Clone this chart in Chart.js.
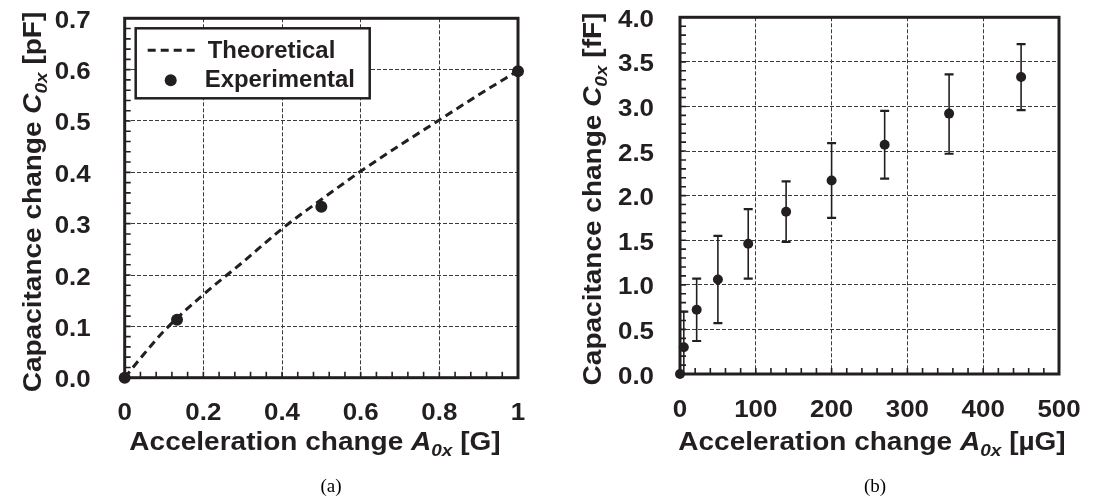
<!DOCTYPE html>
<html>
<head>
<meta charset="utf-8">
<script src="https://cdn.jsdelivr.net/npm/chart.js@4.4.0/dist/chart.umd.min.js"></script>
<style>
  body { margin: 0; background: #fff; width: 1105px; height: 500px; position: relative; overflow: hidden; }
  canvas { position: absolute; top: 0; }
  #chart_a { left: 0; }
  #chart_b { left: 552px; }
</style>
</head>
<body>
<canvas id="chart_a" width="552" height="500"></canvas>
<canvas id="chart_b" width="553" height="500"></canvas>
<script>
// (a) capacitance vs acceleration, G range
const theo_x = [0, 0.05, 0.1, 0.2, 0.3, 0.4, 0.5, 0.6, 0.7, 0.8, 0.9, 1.0];
const theo_y = [0, 0.047, 0.091, 0.162, 0.225, 0.29, 0.347, 0.402, 0.453, 0.502, 0.551, 0.598];
const exp_x = [0, 0.133, 0.5, 1.0];
const exp_y = [0, 0.113, 0.333, 0.597];

// (b) micro-G range with error bars
const micro_x = [0, 5, 22, 50, 90, 140, 200, 270, 355, 450];
const micro_y = [0, 0.30, 0.72, 1.06, 1.46, 1.82, 2.17, 2.57, 2.92, 3.33];
const micro_hi = [0, 0.70, 1.07, 1.55, 1.85, 2.16, 2.59, 2.95, 3.36, 3.70];
const micro_lo = [0, -0.10, 0.37, 0.57, 1.07, 1.48, 1.75, 2.19, 2.47, 2.96];

const a_x_ticks = { min: 0, max: 1, step: 0.2, minor: 0.04 };
const a_y_ticks = { min: 0, max: 0.7, step: 0.1, minor: 0.02 };
const b_x_ticks = { min: 0, max: 500, step: 100, minor: 20 };
const b_y_ticks = { min: 0, max: 4, step: 0.5, minor: 0.1 };

const INK = '#231f20';
const SANS = '"Liberation Sans", Arial, Helvetica, sans-serif';
const TICK_SIZE = 24;
const TITLE_SIZE = 25;

function font_for(p, size) {
  let s = p.sub ? Math.round(size * 0.68) : size;
  return (p.it ? 'italic ' : '') + 'bold ' + s + 'px ' + SANS;
}

// draws a run of text pieces (normal / italic / subscript) on one baseline
function draw_rich(ctx, parts, x, y, size, align, rot, sx) {
  ctx.save();
  let w = 0;
  parts.forEach(p => {
    ctx.font = font_for(p, size);
    p.w = ctx.measureText(p.t).width;
    w += p.w;
  });
  ctx.translate(x, y);
  ctx.rotate(rot || 0);
  ctx.scale(sx || 1, 1);
  let cx = align == 'center' ? -w / 2 : align == 'right' ? -w : 0;
  ctx.fillStyle = INK;
  ctx.textBaseline = 'alphabetic';
  ctx.textAlign = 'left';
  parts.forEach(p => {
    ctx.font = font_for(p, size);
    ctx.fillText(p.t, cx, p.sub ? size * 0.24 : 0);
    cx += p.w;
  });
  ctx.restore();
}

function each_step(min, max, step, fn) {
  const n = Math.round((max - min) / step);
  for (let k = 0; k <= n; k++) fn(min + k * step);
}

function make_paper(cfg) {
  return {
    id: 'paper',
    beforeDatasetsDraw(chart) {
      const ctx = chart.ctx, a = chart.chartArea;
      const xs = chart.scales.x, ys = chart.scales.y;
      ctx.save();
      ctx.strokeStyle = INK;
      ctx.setLineDash([]);
      // small inward ticks
      ctx.lineWidth = 1.6;
      ctx.beginPath();
      each_step(xs.min, xs.max, cfg.x.minor, v => {
        const p = xs.getPixelForValue(v);
        ctx.moveTo(p, a.bottom);
        ctx.lineTo(p, a.bottom - 6);
      });
      each_step(ys.min, ys.max, cfg.y.minor, v => {
        const p = ys.getPixelForValue(v);
        ctx.moveTo(a.left, p);
        ctx.lineTo(a.left + 6, p);
      });
      ctx.stroke();
      // frame
      ctx.lineWidth = 3;
      ctx.strokeRect(a.left, a.top, a.right - a.left, a.bottom - a.top);
      // error bars
      if (cfg.errors) {
        ctx.beginPath();
        ctx.rect(a.left, a.top, a.right - a.left, a.bottom - a.top);
        ctx.clip();
        cfg.errors.x.forEach((xv, i) => {
          const hi = cfg.errors.hi[i], lo = cfg.errors.lo[i];
          if (hi == lo) return;
          const px = xs.getPixelForValue(xv);
          const pt = ys.getPixelForValue(hi), pb = ys.getPixelForValue(lo);
          ctx.lineWidth = 1.6;
          ctx.beginPath();
          ctx.moveTo(px, pt);
          ctx.lineTo(px, pb);
          ctx.stroke();
          ctx.lineWidth = 2.2;
          ctx.beginPath();
          ctx.moveTo(px - 4.5, pt); ctx.lineTo(px + 4.5, pt);
          ctx.moveTo(px - 4.5, pb); ctx.lineTo(px + 4.5, pb);
          ctx.stroke();
        });
      }
      ctx.restore();
    },
    afterDraw(chart) {
      const ctx = chart.ctx, a = chart.chartArea;
      const xs = chart.scales.x, ys = chart.scales.y;
      // tick labels
      xs.ticks.forEach(t => {
        draw_rich(ctx, [{ t: cfg.x.fmt(t.value) }], xs.getPixelForValue(t.value), a.bottom + 42.5,
          TICK_SIZE, 'center', 0, 1.08);
      });
      ys.ticks.forEach(t => {
        draw_rich(ctx, [{ t: cfg.y.fmt(t.value) }], a.left - cfg.y_gap, ys.getPixelForValue(t.value) + 9.5,
          TICK_SIZE, 'right', 0, 1.08);
      });
      // axis titles
      draw_rich(ctx, cfg.x_title, cfg.x_title_x, 450, TITLE_SIZE, 'center', 0, 1.12);
      draw_rich(ctx, cfg.y_title, cfg.y_title_x, cfg.y_title_y, TITLE_SIZE, 'center', -Math.PI / 2, 1.12);
      // caption
      ctx.save();
      ctx.fillStyle = '#000';
      ctx.font = '19px "Liberation Serif", "Times New Roman", serif';
      ctx.textAlign = 'center';
      ctx.fillText(cfg.caption, cfg.caption_x, 492);
      ctx.restore();
      // legend box
      if (cfg.legend) {
        const lx = a.left + 11, ly = a.top + 10, lw = 234, lh = 70;
        const sets = chart.data.datasets;
        const theo = sets.find(d => d.showLine), exp = sets.find(d => !d.showLine);
        ctx.save();
        ctx.fillStyle = '#fff';
        ctx.fillRect(lx, ly, lw, lh);
        ctx.strokeStyle = INK;
        ctx.lineWidth = 2.5;
        ctx.strokeRect(lx, ly, lw, lh);
        ctx.lineWidth = theo.borderWidth;
        ctx.setLineDash(theo.borderDash);
        ctx.beginPath();
        ctx.moveTo(lx + 12, ly + 22);
        ctx.lineTo(lx + 60, ly + 22);
        ctx.stroke();
        ctx.fillStyle = exp.backgroundColor;
        ctx.beginPath();
        ctx.arc(lx + 35, ly + 52, exp.pointRadius, 0, Math.PI * 2);
        ctx.fill();
        ctx.restore();
        draw_rich(ctx, [{ t: theo.label }], lx + 72, ly + 30, 23, 'left', 0, 1.04);
        draw_rich(ctx, [{ t: exp.label }], lx + 69, ly + 59, 23, 'left', 0, 1.04);
      }
    }
  };
}

function make_scales(xt, yt) {
  const axis = (t) => ({
    type: 'linear',
    min: t.min,
    max: t.max,
    ticks: { stepSize: t.step, display: false },
    grid: { color: '#3a3a3a', lineWidth: 1, drawTicks: false },
    border: { display: false, dash: [4, 2] }
  });
  return { x: axis(xt), y: axis(yt) };
}

function to_points(xs, ys) {
  return xs.map((x, i) => ({ x: x, y: ys[i] }));
}

const a_cfg = {
  x: { minor: a_x_ticks.minor, fmt: v => String(Math.round(v * 10) / 10) },
  y: { minor: a_y_ticks.minor, fmt: v => v.toFixed(1) },
  y_gap: 34,
  x_title: [{ t: 'Acceleration change ' }, { t: 'A', it: true }, { t: '0x', it: true, sub: true }, { t: ' [G]' }],
  y_title: [{ t: 'Capacitance change ' }, { t: 'C', it: true }, { t: '0x', it: true, sub: true }, { t: ' [pF]' }],
  x_title_x: 315,
  y_title_x: 41,
  y_title_y: 202,
  caption: '(a)',
  caption_x: 331,
  legend: true
};

const b_cfg = {
  x: { minor: b_x_ticks.minor, fmt: v => String(Math.round(v)) },
  y: { minor: b_y_ticks.minor, fmt: v => v.toFixed(1) },
  y_gap: 26,
  x_title: [{ t: 'Acceleration change ' }, { t: 'A', it: true }, { t: '0x', it: true, sub: true }, { t: ' [µG]' }],
  y_title: [{ t: 'Capacitance change ' }, { t: 'C', it: true }, { t: '0x', it: true, sub: true }, { t: ' [fF]' }],
  x_title_x: 320,
  y_title_x: 49,
  y_title_y: 199,
  caption: '(b)',
  caption_x: 323,
  errors: { x: micro_x, hi: micro_hi, lo: micro_lo }
};

new Chart(document.getElementById('chart_a'), {
  type: 'scatter',
  data: {
    datasets: [
      {
        label: 'Experimental',
        data: to_points(exp_x, exp_y),
        backgroundColor: INK,
        borderWidth: 0,
        pointRadius: 6,
        clip: false,
        order: 0
      },
      {
        label: 'Theoretical',
        data: to_points(theo_x, theo_y),
        showLine: true,
        borderColor: INK,
        borderWidth: 3,
        borderDash: [8, 5],
        pointRadius: 0,
        cubicInterpolationMode: 'monotone',
        order: 1
      }
    ]
  },
  options: {
    responsive: false,
    animation: false,
    layout: { padding: { left: 124.7, right: 34, top: 18.3, bottom: 122.3 } },
    scales: make_scales(a_x_ticks, a_y_ticks),
    plugins: { legend: { display: false }, tooltip: { enabled: false } }
  },
  plugins: [make_paper(a_cfg)]
});

new Chart(document.getElementById('chart_b'), {
  type: 'scatter',
  data: {
    datasets: [
      {
        label: 'Experimental',
        data: to_points(micro_x, micro_y),
        backgroundColor: INK,
        borderWidth: 0,
        pointRadius: 5,
        clip: false
      }
    ]
  },
  options: {
    responsive: false,
    animation: false,
    layout: { padding: { left: 128, right: 46, top: 17.3, bottom: 126 } },
    scales: make_scales(b_x_ticks, b_y_ticks),
    plugins: { legend: { display: false }, tooltip: { enabled: false } }
  },
  plugins: [make_paper(b_cfg)]
});
</script>
</body>
</html>
